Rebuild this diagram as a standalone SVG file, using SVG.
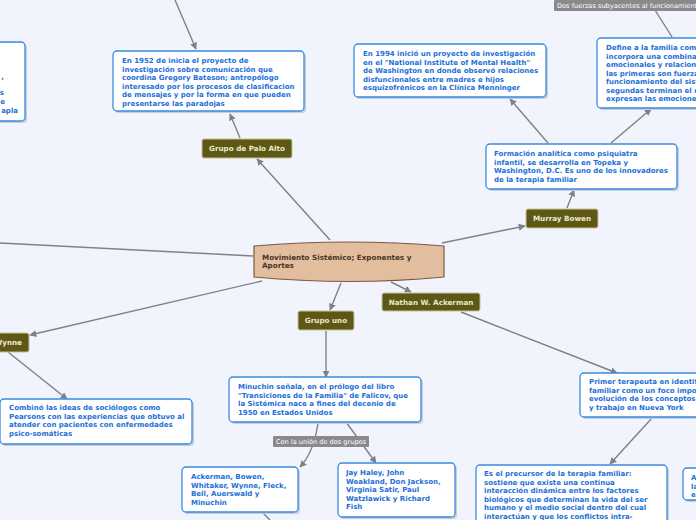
<svg xmlns="http://www.w3.org/2000/svg" width="696" height="520" viewBox="0 0 696 520">
<style>
.bg{fill:#f1f4fd}
.box{fill:#ffffff;stroke:#3a8ae2;stroke-width:1.3}
.sh{fill:#c9cdd8}
.t{font-family:"DejaVu Sans",Verdana,sans-serif;font-weight:bold;font-size:7px;fill:#1c6fd9}
.ol{fill:#5e5818;stroke:#c9c290;stroke-width:1}
.ot{font-family:"DejaVu Sans",Verdana,sans-serif;font-weight:bold;font-size:7.2px;fill:#ece7c4;text-anchor:middle}
.c{fill:none;stroke:#808088;stroke-width:1.4}
.lb{fill:#8a8a8e}
.lt{font-family:"DejaVu Sans",Verdana,sans-serif;font-size:6.6px;fill:#ffffff}
.ct{font-family:"DejaVu Sans",Verdana,sans-serif;font-weight:bold;font-size:7.2px;fill:#4a3626}
</style>
<defs>
<marker id="ar" viewBox="0 0 10 10" refX="9" refY="5" markerWidth="7" markerHeight="7" orient="auto" markerUnits="userSpaceOnUse">
<path d="M0,0 L10,5 L0,10 z" fill="#808088"/>
</marker>
</defs>
<rect class="bg" x="0" y="0" width="696" height="520"/>

<g id="connectors">
<line class="c" x1="175" y1="0" x2="196" y2="49" marker-end="url(#ar)"/>
<line class="c" x1="240" y1="138" x2="230" y2="114" marker-end="url(#ar)"/>
<line class="c" x1="330" y1="240" x2="257" y2="159" marker-end="url(#ar)"/>
<line class="c" x1="0" y1="243" x2="253" y2="256"/>
<line class="c" x1="262" y1="281" x2="30" y2="335" marker-end="url(#ar)"/>
<line class="c" x1="341" y1="283" x2="330" y2="310" marker-end="url(#ar)"/>
<line class="c" x1="391" y1="282" x2="411" y2="292" marker-end="url(#ar)"/>
<line class="c" x1="442" y1="243" x2="525" y2="226" marker-end="url(#ar)"/>
<line class="c" x1="567" y1="208" x2="574" y2="190" marker-end="url(#ar)"/>
<line class="c" x1="548" y1="143" x2="510" y2="99" marker-end="url(#ar)"/>
<line class="c" x1="611" y1="143" x2="651" y2="109" marker-end="url(#ar)"/>
<line class="c" x1="655" y1="10" x2="672" y2="37"/>
<line class="c" x1="8" y1="352" x2="67" y2="399" marker-end="url(#ar)"/>
<line class="c" x1="326" y1="331" x2="326" y2="377" marker-end="url(#ar)"/>
<path class="c" d="M318,423 Q314,452 300,467" marker-end="url(#ar)"/>
<line class="c" x1="346" y1="422" x2="376" y2="463" marker-end="url(#ar)"/>
<line class="c" x1="262" y1="512" x2="270" y2="520"/>
<line class="c" x1="461" y1="312" x2="617" y2="373" marker-end="url(#ar)"/>
<line class="c" x1="652" y1="418" x2="610" y2="464" marker-end="url(#ar)"/>
<rect class="lb" x="273" y="436" width="96" height="11" rx="1"/>
<text class="lt" x="321" y="444" text-anchor="middle">Con la unión de dos grupos</text>
<rect class="lb" x="554" y="0" width="150" height="11" rx="1"/>
<text class="lt" x="557" y="8">Dos fuerzas subyacentes al funcionamiento</text>
</g>

<g id="n-topleft">
<rect class="sh" x="-100" y="44" width="127" height="79" rx="4"/>
<rect class="box" x="-100" y="42" width="125" height="79" rx="4"/>
<text class="t" x="4" y="79" text-anchor="end">,</text>
<text class="t" x="4" y="95" text-anchor="end">s</text>
<text class="t" x="5" y="104" text-anchor="end">e</text>
<text class="t" x="18" y="113" text-anchor="end">apla</text>
</g>

<g id="n-1952">
<rect class="sh" x="115" y="53" width="191" height="60" rx="4"/>
<rect class="box" x="113" y="51" width="191" height="60" rx="4"/>
<text class="t" x="122" y="63">En 1952 de inicia el proyecto de</text>
<text class="t" x="122" y="71.5">investigación sobre comunicación que</text>
<text class="t" x="122" y="80">coordina Gregory Bateson; antropólogo</text>
<text class="t" x="122" y="88.5">interesado por los procesos de clasificacion</text>
<text class="t" x="122" y="97">de mensajes y por la forma en que pueden</text>
<text class="t" x="122" y="105.5">presentarse las paradojas</text>
</g>

<g id="n-paloalto">
<rect class="ol" x="202" y="139" width="90" height="19" rx="2"/>
<text class="ot" x="247" y="151">Grupo de Palo Alto</text>
</g>

<g id="n-1994">
<rect class="sh" x="356" y="46" width="192" height="53" rx="4"/>
<rect class="box" x="354" y="44" width="192" height="53" rx="4"/>
<text class="t" x="363" y="56">En 1994 inició un proyecto de investigación</text>
<text class="t" x="363" y="64.5">en el "National Institute of Mental Health"</text>
<text class="t" x="363" y="73">de Washington en donde observó relaciones</text>
<text class="t" x="363" y="81.5">disfuncionales entre madres e hijos</text>
<text class="t" x="363" y="90">esquizofrénicos en la Clínica Menninger</text>
</g>

<g id="n-define">
<rect class="sh" x="599" y="40" width="120" height="70" rx="4"/>
<rect class="box" x="597" y="38" width="120" height="70" rx="4"/>
<text class="t" x="606" y="50">Define a la familia com</text>
<text class="t" x="606" y="58.5">incorpora una combina</text>
<text class="t" x="606" y="67">emocionales y relaciona</text>
<text class="t" x="606" y="75.5">las primeras son fuerza</text>
<text class="t" x="606" y="84">funcionamiento del sist</text>
<text class="t" x="606" y="92.5">segundas terminan el m</text>
<text class="t" x="606" y="101">expresan las emociones</text>
</g>

<g id="n-formacion">
<rect class="sh" x="488" y="146" width="191" height="45" rx="4"/>
<rect class="box" x="486" y="144" width="191" height="45" rx="4"/>
<text class="t" x="494" y="156">Formación analítica como psiquiatra</text>
<text class="t" x="494" y="164.5">infantil, se desarrolla en Topeka y</text>
<text class="t" x="494" y="173">Washington, D.C. Es uno de los innovadores</text>
<text class="t" x="494" y="181.5">de la terapia familiar</text>
</g>

<g id="n-bowen">
<rect class="ol" x="526" y="209" width="72" height="19" rx="2"/>
<text class="ot" x="562" y="221">Murray Bowen</text>
</g>

<g id="n-center">
<path d="M254,246 Q349,238 444,246 L444,277 Q349,286 254,277 Z" fill="#e2bd9e" stroke="#7a5a44" stroke-width="1.2"/>
<text class="ct" x="262" y="260">Movimiento Sistémico; Exponentes y</text>
<text class="ct" x="262" y="268">Aportes</text>
</g>

<g id="n-grupouno">
<rect class="ol" x="298" y="311" width="56" height="19" rx="2"/>
<text class="ot" x="326" y="323">Grupo uno</text>
</g>

<g id="n-ackerman">
<rect class="ol" x="382" y="293" width="98" height="18" rx="2"/>
<text class="ot" x="431" y="304.5">Nathan W. Ackerman</text>
</g>

<g id="n-wynne">
<rect class="ol" x="-40" y="333" width="69" height="19" rx="2"/>
<text class="ot" x="22" y="345" text-anchor="end" style="text-anchor:end">Wynne</text>
</g>

<g id="n-combino">
<rect class="sh" x="2" y="401" width="192" height="45" rx="4"/>
<rect class="box" x="0" y="399" width="192" height="45" rx="4"/>
<text class="t" x="9" y="410">Combinó las ideas de sociólogos como</text>
<text class="t" x="9" y="418.5">Pearsons con las experiencias que obtuvo al</text>
<text class="t" x="9" y="427">atender con pacientes con enfermedades</text>
<text class="t" x="9" y="435.5">psico-somáticas</text>
</g>

<g id="n-minuchin">
<rect class="sh" x="231" y="379" width="192" height="45" rx="4"/>
<rect class="box" x="229" y="377" width="192" height="45" rx="4"/>
<text class="t" x="238" y="389">Minuchin señala, en el prólogo del libro</text>
<text class="t" x="238" y="397.5">"Transiciones de la Familia" de Falicov, que</text>
<text class="t" x="238" y="406">la Sistémica nace a fines del decenio de</text>
<text class="t" x="238" y="414.5">1950 en Estados Unidos</text>
</g>

<g id="n-ackermanlist">
<rect class="sh" x="184" y="469" width="116" height="45" rx="4"/>
<rect class="box" x="182" y="467" width="116" height="45" rx="4"/>
<text class="t" x="191" y="479">Ackerman, Bowen,</text>
<text class="t" x="191" y="487.5">Whitaker, Wynne, Fleck,</text>
<text class="t" x="191" y="496">Bell, Auerswald y</text>
<text class="t" x="191" y="504.5">Minuchin</text>
</g>

<g id="n-haley">
<rect class="sh" x="340" y="465" width="117" height="54" rx="4"/>
<rect class="box" x="338" y="463" width="117" height="54" rx="4"/>
<text class="t" x="346" y="475">Jay Haley, John</text>
<text class="t" x="346" y="483.5">Weakland, Don Jackson,</text>
<text class="t" x="346" y="492">Virginia Satir, Paul</text>
<text class="t" x="346" y="500.5">Watzlawick y Richard</text>
<text class="t" x="346" y="509">Fish</text>
</g>

<g id="n-primer">
<rect class="sh" x="582" y="375" width="130" height="44" rx="4"/>
<rect class="box" x="580" y="373" width="130" height="44" rx="4"/>
<text class="t" x="589" y="384">Primer terapeuta en identif</text>
<text class="t" x="589" y="392.5">familiar como un foco impo</text>
<text class="t" x="589" y="401">evolución de los conceptos</text>
<text class="t" x="589" y="409.5">y trabajo en Nueva York</text>
</g>

<g id="n-precursor">
<rect class="sh" x="478" y="467" width="191" height="60" rx="4"/>
<rect class="box" x="476" y="465" width="191" height="60" rx="4"/>
<text class="t" x="484" y="476">Es el precursor de la terapia familiar:</text>
<text class="t" x="484" y="484.5">sostiene que existe una continua</text>
<text class="t" x="484" y="493">interacción dinámica entre los factores</text>
<text class="t" x="484" y="501.5">biológicos que determinan la vida del ser</text>
<text class="t" x="484" y="510">humano y el medio social dentro del cual</text>
<text class="t" x="484" y="518.5">interactúan y que los conflictos intra-</text>
</g>

<g id="n-right">
<rect class="sh" x="685" y="470" width="30" height="32" rx="4"/>
<rect class="box" x="683" y="468" width="30" height="32" rx="4"/>
<text class="t" x="691" y="480">A</text>
<text class="t" x="691" y="488.5">la</text>
<text class="t" x="691" y="497">e</text>
</g>
</svg>
